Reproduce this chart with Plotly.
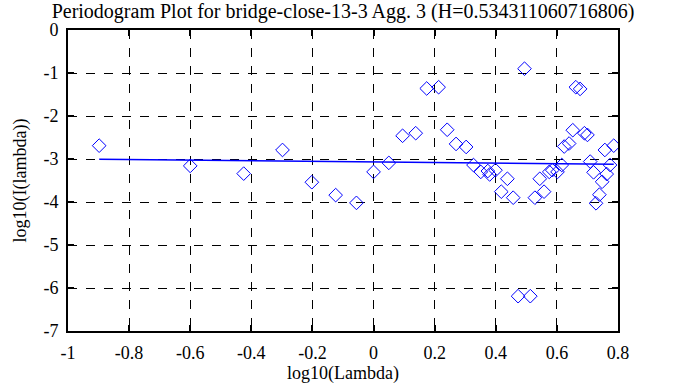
import plotly.graph_objects as go

log_lambda = [-0.898, -0.600, -0.425, -0.298, -0.202, -0.124, -0.056, 0.000, 0.050, 0.095,
              0.138, 0.174, 0.213, 0.241, 0.270, 0.303, 0.327, 0.351, 0.374, 0.380,
              0.399, 0.418, 0.438, 0.457, 0.473, 0.494, 0.513, 0.528, 0.544, 0.558,
              0.575, 0.585, 0.602, 0.616, 0.624, 0.640, 0.652, 0.662, 0.676, 0.690,
              0.700, 0.709, 0.720, 0.728, 0.739, 0.748, 0.757, 0.763, 0.774, 0.786]
log_I = [-2.69, -3.16, -3.34, -2.79, -3.54, -3.84, -4.02, -3.30, -3.09, -2.46,
         -2.40, -1.36, -1.33, -2.32, -2.65, -2.72, -3.14, -3.30, -3.28, -3.36,
         -3.26, -3.76, -3.46, -3.90, -6.19, -0.90, -6.19, -3.90, -3.46, -3.76,
         -3.30, -3.26, -3.30, -3.14, -2.71, -2.64, -2.33, -1.33, -1.37, -2.40,
         -2.44, -3.06, -3.31, -4.03, -3.83, -3.53, -2.79, -3.35, -3.14, -2.69]

H = 0.534311060716806
slope = 1 - 2 * H
intercept = -3.07
fit_x = [log_lambda[0], log_lambda[-1]]
fit_y = [intercept + slope * v for v in fit_x]

x_ticks = [-1, -0.8, -0.6, -0.4, -0.2, 0, 0.2, 0.4, 0.6, 0.8]
x_tick_labels = ["-1", "-0.8", "-0.6", "-0.4", "-0.2", "0", "0.2", "0.4", "0.6", "0.8"]
y_ticks = [0, -1, -2, -3, -4, -5, -6, -7]
y_tick_labels = ["0", "-1", "-2", "-3", "-4", "-5", "-6", "-7"]

font_family = "Times New Roman, Liberation Serif, serif"

fig = go.Figure()
fig.add_trace(go.Scatter(x=fit_x, y=fit_y, mode="lines",
                         line=dict(color="#0000ff", width=1.5), showlegend=False))
fig.add_trace(go.Scatter(x=log_lambda, y=log_I, mode="markers",
                         marker=dict(symbol="diamond-open", size=10.5, color="#0000ff",
                                     line=dict(width=1, color="#0000ff")),
                         showlegend=False))

axis_common = dict(showline=True, linecolor="black", linewidth=2, mirror="ticks",
                   ticks="inside", ticklen=6, tickwidth=2, tickcolor="black",
                   showgrid=True, gridcolor="black", griddash="dash", gridwidth=1,
                   zeroline=False, automargin=False,
                   tickfont=dict(family=font_family, size=18, color="black"))

fig.update_xaxes(range=[-1, 0.8], tickvals=x_ticks, ticktext=x_tick_labels,
                 ticklabelstandoff=4,
                 title=dict(text="log10(Lambda)", font=dict(family=font_family, size=18, color="black"),
                            standoff=2),
                 **axis_common)
fig.update_yaxes(range=[-7, 0], tickvals=y_ticks, ticktext=y_tick_labels,
                 ticklabelstandoff=4,
                 title=dict(text="log10(I(lambda))", font=dict(family=font_family, size=18, color="black"),
                            standoff=12),
                 **axis_common)

fig.update_layout(
    width=685, height=387,
    margin=dict(l=68, r=67, t=30, b=56, autoexpand=False),
    paper_bgcolor="white", plot_bgcolor="white",
    font=dict(family=font_family, color="black"),
    title=dict(text="Periodogram Plot for bridge-close-13-3 Agg. 3 (H=0.534311060716806)",
               x=0.5, xref="paper", xanchor="center", y=1 - 11 / 387, yref="container",
               yanchor="middle",
               font=dict(family=font_family, size=20, color="black"), automargin=False),
)

fig.write_html("out.html", config={"displayModeBar": False},
               post_script="document.body.style.margin='0px';")
